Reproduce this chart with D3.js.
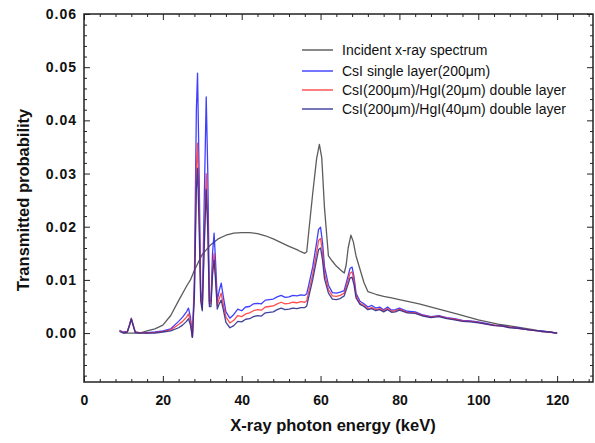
<!DOCTYPE html>
<html><head><meta charset="utf-8">
<script src="https://cdn.jsdelivr.net/npm/d3@7"></script>
<style>
body{margin:0;background:#fff;}
svg{display:block;font-family:"Liberation Sans",Arial,sans-serif;}
</style></head>
<body>
<svg id="c" width="595" height="443"></svg>
<script>
// ---- data ----
const incidentEnergy = [10,14,15,16,18,20,22,24,26,27,28,30,32,34,36,38,40,42,44,46,48,50,52,54,55,56,56.5,57,58,59,59.7,60.3,61,62,63,64,65,66,66.5,67,67.7,68.3,69,70,71,72,74,76,78,80,85,90,95,100,105,110,115,120];
const incident = [0,0,0.0002,0.0004,0.0008,0.0015,0.0033,0.0061,0.0088,0.0100,0.0118,0.0148,0.0165,0.0177,0.0184,0.0188,0.0189,0.0189,0.0187,0.0183,0.0177,0.0170,0.0163,0.0157,0.0153,0.0150,0.0153,0.0190,0.0262,0.0328,0.0355,0.0330,0.0235,0.0145,0.0135,0.0126,0.0119,0.0113,0.0128,0.0160,0.0184,0.0172,0.0145,0.0120,0.0095,0.0078,0.0073,0.0069,0.0066,0.0063,0.0055,0.0045,0.0035,0.0025,0.0017,0.0011,0.0005,0];

const energy = [9,10,11,11.5,12,12.5,13,14,16,18,20,22,24,25,26,26.5,27,27.5,28,28.5,28.8,29.2,29.6,30,30.5,31,31.4,31.8,32.2,32.6,33,33.4,33.8,34.3,34.8,35.3,36,37,38,39,40,41,42,43,44,45,46,47,48,49,50,51,52,53,54,55,56,56.5,57,58,59,59.5,60,60.5,61,62,63,64,65,66,67,67.5,68,68.5,69,70,71,72,73,74,75,76,77,78,79,80,82,84,86,88,90,92,94,96,98,100,102,104,106,108,110,112,114,116,118,120];
const csiSingle = [0.0005,0.0002,0.0003,0.0015,0.0028,0.0015,0.0002,0.0001,0.0001,0.0002,0.0004,0.0008,0.0022,0.0030,0.0040,0.0047,0.0030,-0.0008,0.0100,0.0420,0.0489,0.0300,0.0080,0.0049,0.0250,0.0444,0.0300,0.0060,0.0060,0.0150,0.0188,0.0130,0.0062,0.0080,0.0094,0.0070,0.0040,0.0028,0.0035,0.0045,0.0042,0.0049,0.0050,0.0055,0.0056,0.0055,0.0062,0.0063,0.0064,0.0068,0.0071,0.0067,0.0068,0.0071,0.0070,0.0072,0.0071,0.0074,0.0090,0.0124,0.0170,0.0195,0.0199,0.0170,0.0125,0.0090,0.0076,0.0075,0.0077,0.0080,0.0108,0.0122,0.0124,0.0105,0.0075,0.0060,0.0055,0.0049,0.0052,0.0047,0.0049,0.0044,0.0049,0.0043,0.0044,0.0047,0.0041,0.0040,0.0034,0.0031,0.0033,0.0029,0.0027,0.0024,0.0023,0.0021,0.0018,0.0015,0.0014,0.0011,0.0010,0.0007,0.0005,0.0004,0.0002,0];
const hgi20 = [0.0004,0.0001,0.0003,0.0014,0.0027,0.0014,0.0002,0.0001,0,0.0001,0.0003,0.0006,0.0016,0.0022,0.0030,0.0036,0.0022,-0.0008,0.0080,0.0310,0.0357,0.0230,0.0070,0.0045,0.0180,0.0300,0.0210,0.0055,0.0055,0.0120,0.0150,0.0105,0.0052,0.0065,0.0075,0.0055,0.0030,0.0019,0.0024,0.0033,0.0031,0.0036,0.0038,0.0042,0.0044,0.0043,0.0049,0.0050,0.0051,0.0055,0.0058,0.0055,0.0056,0.0058,0.0057,0.0059,0.0058,0.0061,0.0078,0.0110,0.0152,0.0174,0.0178,0.0152,0.0112,0.0082,0.0070,0.0069,0.0071,0.0075,0.0100,0.0113,0.0115,0.0098,0.0070,0.0056,0.0052,0.0046,0.0048,0.0044,0.0046,0.0042,0.0046,0.0041,0.0042,0.0045,0.0039,0.0038,0.0033,0.0030,0.0032,0.0028,0.0026,0.0023,0.0022,0.0020,0.0017,0.0015,0.0013,0.0011,0.0009,0.0007,0.0005,0.0003,0.0002,0];
const hgi40 = [0.0003,0,0.0002,0.0013,0.0026,0.0013,0.0001,0,0,0,0.0002,0.0004,0.0010,0.0015,0.0022,0.0027,0.0015,-0.0008,0.0070,0.0270,0.0310,0.0200,0.0060,0.0042,0.0160,0.0270,0.0190,0.0050,0.0050,0.0110,0.0137,0.0095,0.0045,0.0055,0.0062,0.0045,0.0020,0.0010,0.0014,0.0022,0.0021,0.0026,0.0027,0.0031,0.0033,0.0032,0.0038,0.0039,0.0040,0.0044,0.0047,0.0044,0.0045,0.0047,0.0046,0.0048,0.0048,0.0051,0.0068,0.0100,0.0138,0.0157,0.0160,0.0137,0.0102,0.0075,0.0064,0.0063,0.0065,0.0070,0.0092,0.0104,0.0105,0.0090,0.0066,0.0054,0.0050,0.0044,0.0046,0.0042,0.0044,0.0040,0.0044,0.0039,0.0040,0.0043,0.0038,0.0037,0.0032,0.0029,0.0031,0.0027,0.0025,0.0022,0.0021,0.0019,0.0017,0.0014,0.0013,0.0010,0.0009,0.0007,0.0005,0.0003,0.0002,0];

const xMajor = [0,20,40,60,80,100,120];
const xMinor = [4,8,12,16,24,28,32,36,44,48,52,56,64,68,72,76,84,88,92,96,104,108,112,116,124,128];
const yMajor = [0.00,0.01,0.02,0.03,0.04,0.05,0.06];
const yMinor = [-0.008,-0.006,-0.004,-0.002,0.002,0.004,0.006,0.008,0.012,0.014,0.016,0.018,0.022,0.024,0.026,0.028,0.032,0.034,0.036,0.038,0.042,0.044,0.046,0.048,0.052,0.054,0.056,0.058];

const seriesNames = ["Incident x-ray spectrum","CsI single layer(200\u03bcm)","CsI(200\u03bcm)/HgI(20\u03bcm) double layer","CsI(200\u03bcm)/HgI(40\u03bcm) double layer"];
const seriesColors = ["#4a4a4a","#2a2aff","#ff3a3a","#2e2e90"];

// ---- layout ----
const L=84, R=593, T=14, B=382;
const svg = d3.select("#c");
const x = d3.scaleLinear().domain([0,129.1]).range([L,R]);
const y = d3.scaleLinear().domain([-0.0092,0.06]).range([B,T]);

// series
const line = d3.line().x(d=>x(d[0])).y(d=>y(d[1]));
const seriesData = [
  d3.zip(incidentEnergy, incident),
  d3.zip(energy, csiSingle),
  d3.zip(energy, hgi20),
  d3.zip(energy, hgi40)
];
seriesData.forEach((d,i)=>{
  svg.append("path").datum(d).attr("d",line).attr("fill","none")
    .attr("stroke",seriesColors[i]).attr("stroke-width",1.3)
    .attr("stroke-linejoin","round").attr("stroke-opacity",0.9);
});

// axes
function styleAxis(g){ g.select(".domain").remove(); g.selectAll("line").attr("stroke","#222").attr("stroke-width",1); }
const fmt = d3.format(".2f");
svg.append("g").attr("transform",`translate(0,${B})`)
  .call(d3.axisBottom(x).tickValues(xMajor).tickSize(-6).tickPadding(13).tickFormat(d3.format("d")))
  .call(styleAxis)
  .call(g=>g.selectAll("text").attr("font-size",14).attr("font-weight","bold").attr("fill","#111"));
svg.append("g").attr("transform",`translate(0,${B})`)
  .call(d3.axisBottom(x).tickValues(xMinor).tickSize(-3).tickFormat(""))
  .call(styleAxis);
svg.append("g").attr("transform",`translate(0,${T})`)
  .call(d3.axisTop(x).tickValues(xMajor).tickSize(-6).tickFormat(""))
  .call(styleAxis);
svg.append("g").attr("transform",`translate(0,${T})`)
  .call(d3.axisTop(x).tickValues(xMinor).tickSize(-3).tickFormat(""))
  .call(styleAxis);
svg.append("g").attr("transform",`translate(${L},0)`)
  .call(d3.axisLeft(y).tickValues(yMajor).tickSize(-6).tickPadding(7).tickFormat(fmt))
  .call(styleAxis)
  .call(g=>g.selectAll("text").attr("font-size",14).attr("font-weight","bold").attr("fill","#111").attr("letter-spacing","1px"));
svg.append("g").attr("transform",`translate(${L},0)`)
  .call(d3.axisLeft(y).tickValues(yMinor).tickSize(-3).tickFormat(""))
  .call(styleAxis);
svg.append("g").attr("transform",`translate(${R},0)`)
  .call(d3.axisRight(y).tickValues(yMajor).tickSize(-6).tickFormat(""))
  .call(styleAxis);
svg.append("g").attr("transform",`translate(${R},0)`)
  .call(d3.axisRight(y).tickValues(yMinor).tickSize(-3).tickFormat(""))
  .call(styleAxis);

svg.append("rect").attr("x",L).attr("y",T).attr("width",R-L).attr("height",B-T)
  .attr("fill","none").attr("stroke","#222").attr("stroke-width",1.5);

// titles
svg.append("text").attr("x",333).attr("y",431).attr("text-anchor","middle")
  .attr("font-size",16.5).attr("font-weight","bold").attr("fill","#111")
  .text("X-ray photon energy (keV)");
svg.append("text").attr("transform","translate(29,200) rotate(-90)").attr("text-anchor","middle")
  .attr("font-size",16.5).attr("font-weight","bold").attr("fill","#111")
  .text("Transmitted probability");

// legend
const legY=[50,71,90,109];
seriesNames.forEach((n,i)=>{
  svg.append("line").attr("x1",302).attr("x2",333).attr("y1",legY[i]).attr("y2",legY[i])
    .attr("stroke",seriesColors[i]).attr("stroke-width",1.3);
  svg.append("text").attr("x",342).attr("y",legY[i]).attr("dy","0.35em")
    .attr("font-size",14).attr("fill","#111").text(n);
});
</script>
</body></html>
